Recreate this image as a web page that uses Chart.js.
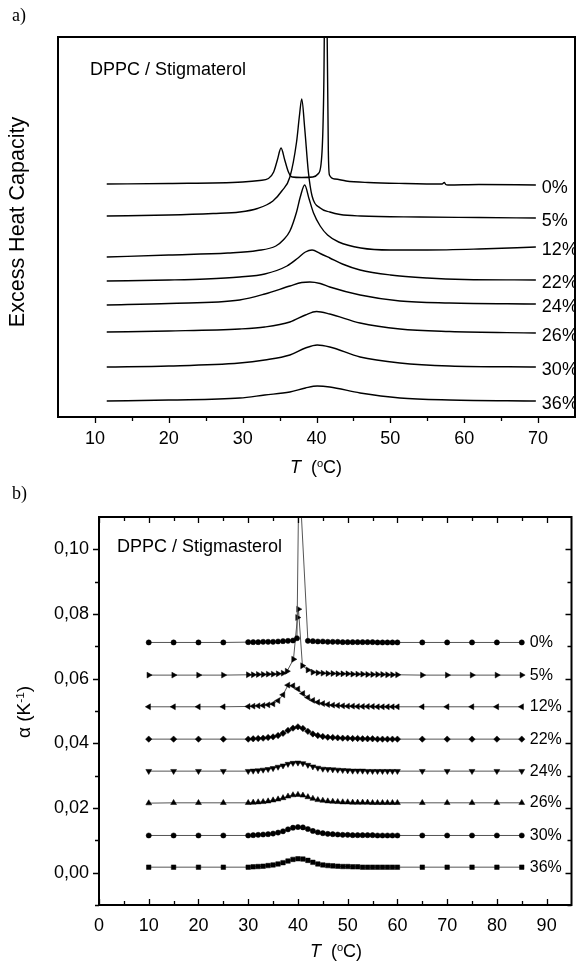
<!DOCTYPE html>
<html>
<head>
<meta charset="utf-8">
<script src="https://cdn.jsdelivr.net/npm/chart.js@4/dist/chart.umd.min.js"></script>
<style>
  html, body { margin: 0; padding: 0; background: #fff; }
  body { width: 576px; height: 965px; position: relative; overflow: hidden;
         font-family: "Liberation Sans", Arial, sans-serif; color: #000; }
  .panel { position: absolute; left: 0; width: 576px; }
  .txt { position: absolute; white-space: nowrap; line-height: 1; }
  .serif { font-family: "Liberation Serif", "Times New Roman", serif; }
  .sup { font-size: 0.62em; position: relative; top: -0.5em; }
  .center { transform: translate(-50%, -50%); }
  .vert { transform: translate(-50%, -50%) rotate(-90deg); }
</style>
</head>
<body>
<div class="panel" style="top:0;height:480px"><canvas id="dsc"></canvas></div>
<div class="panel" style="top:480px;height:485px"><canvas id="alpha"></canvas></div>

<div class="txt serif" style="left:12px;top:6px;font-size:18px">a)</div>
<div class="txt serif" style="left:12px;top:484px;font-size:18px">b)</div>
<div class="txt" style="left:90px;top:60px;font-size:18px">DPPC / Stigmaterol</div>
<div class="txt" style="left:117px;top:537px;font-size:18px">DPPC / Stigmasterol</div>
<div class="txt vert" style="left:18px;top:222px;font-size:21.5px">Excess Heat Capacity</div>
<div class="txt vert" style="left:23px;top:712px;font-size:19px">&alpha; (K<span class="sup">-1</span>)</div>
<div class="txt center" style="left:316px;top:467px;font-size:18px"><i>T</i>&nbsp;&nbsp;(<span class="sup">o</span>C)</div>
<div class="txt center" style="left:336px;top:951px;font-size:18px"><i>T</i>&nbsp;&nbsp;(<span class="sup">o</span>C)</div>

<script>
// ---- Sterol content of each DPPC / sterol mixture ----
const compositions = ['0%', '5%', '12%', '22%', '24%', '26%', '30%', '36%'];

// ---- a) DSC scans: temperature (°C) and excess heat capacity (arb. units, traces offset) ----
const dsc0T  = [11.6, 20, 30, 32.3, 33.5, 34.2, 34.7, 35.2, 35.7, 36.2, 36.7, 38.0, 39.5, 40.2, 40.6, 40.9, 41.05, 41.25, 41.45, 41.6, 41.75, 42.5, 44, 47, 52, 57.0, 57.3, 57.5, 57.8, 62, 69.7];
const dsc0Cp = [23.3, 23.35, 23.5, 23.65, 23.85, 24.5, 25.7, 26.9, 25.7, 24.5, 24.0, 23.95, 24.0, 24.3, 25.2, 29.7, 37.7, 71.7, 37.7, 26.7, 24.2, 23.8, 23.6, 23.45, 23.35, 23.3, 23.45, 23.25, 23.2, 23.25, 23.2];

const dsc5T  = [11.6, 20, 26, 29.6, 32, 34.1, 35.3, 36.4, 37.3, 37.7, 38.0, 38.4, 38.9, 39.4, 40.5, 41.8, 43.2, 46, 54, 62, 69.7];
const dsc5Cp = [20.1, 20.2, 20.35, 20.5, 20.85, 21.6, 22.6, 24.0, 27.5, 30.2, 31.8, 28.9, 24.5, 22.1, 20.9, 20.5, 20.25, 20.1, 20.0, 19.95, 19.9];

const dsc12T  = [11.6, 20, 28, 32, 34.5, 35.5, 36.4, 37.3, 37.8, 38.4, 39.0, 39.6, 40.5, 41.5, 43, 46, 50, 55, 62, 69.7];
const dsc12Cp = [16.0, 16.2, 16.4, 16.65, 17.1, 17.7, 18.6, 20.5, 22.0, 23.2, 21.8, 20.4, 19.1, 18.2, 17.5, 16.9, 16.7, 16.7, 16.8, 17.0];

const dsc22T  = [11.6, 20, 25, 29.6, 33, 36, 37.5, 38.5, 39.4, 40.5, 41.8, 43.5, 45.9, 50, 55, 60, 69.7];
const dsc22Cp = [13.6, 13.7, 13.8, 14.0, 14.3, 15.1, 15.9, 16.5, 16.7, 16.35, 15.9, 15.3, 14.7, 14.2, 13.9, 13.75, 13.7];

const dsc24T  = [11.6, 20, 29.6, 33, 36.4, 38, 39.1, 40.5, 41.8, 45.9, 51.3, 58, 69.7];
const dsc24Cp = [11.2, 11.35, 11.7, 12.3, 13.1, 13.45, 13.5, 13.35, 13.0, 12.2, 11.6, 11.4, 11.3];

const dsc26T  = [11.6, 20, 29.6, 33, 36.4, 38.5, 40.0, 41.8, 45.9, 51.3, 58, 69.7];
const dsc26Cp = [8.5, 8.6, 8.8, 9.0, 9.5, 10.2, 10.55, 10.3, 9.4, 8.8, 8.55, 8.4];

const dsc30T  = [11.6, 20, 29.6, 33, 36.4, 38.5, 40.1, 41.8, 45.9, 51.3, 58, 69.7];
const dsc30Cp = [5.0, 5.1, 5.4, 5.7, 6.2, 6.9, 7.2, 7.0, 6.0, 5.4, 5.1, 5.0];

const dsc36T  = [11.6, 20, 29.6, 33, 36.4, 38.5, 40.1, 41.8, 45.9, 51.3, 58, 69.7];
const dsc36Cp = [1.6, 1.7, 1.9, 2.2, 2.5, 2.9, 3.1, 3.0, 2.4, 1.9, 1.7, 1.6];

const dscTempTicks  = [10, 20, 30, 40, 50, 60, 70];
const dscTempMinor  = [15, 25, 35, 45, 55, 65];

// ---- b) Thermal expansion coefficient alpha (1/K), traces offset ----
const alpha0T = [10, 15, 20, 25, 30, 31, 32, 33, 34, 35, 36, 37, 38, 39, 39.8, 40.2, 42, 43, 44, 45, 46, 47, 48, 49, 50, 51, 52, 53, 54, 55, 56, 57, 58, 59, 60, 65, 70, 75, 80, 85];
const alpha0  = [0.0712, 0.0712, 0.0712, 0.0712, 0.0713, 0.0713, 0.0713, 0.0714, 0.0714, 0.0714, 0.0715, 0.0716, 0.0717, 0.0718, 0.0725, 0.1250, 0.0717, 0.0716, 0.0715, 0.0715, 0.0714, 0.0714, 0.0714, 0.0713, 0.0713, 0.0713, 0.0713, 0.0713, 0.0713, 0.0713, 0.0712, 0.0712, 0.0712, 0.0712, 0.0712, 0.0712, 0.0712, 0.0712, 0.0712, 0.0712];

const alpha5T = [10, 15, 20, 25, 30, 31, 32, 33, 34, 35, 36, 37, 37.8, 39.1, 39.9, 40.1, 40.9, 42, 43, 44, 45, 46, 47, 48, 49, 50, 51, 52, 53, 54, 55, 56, 57, 58, 59, 60, 65, 70, 75, 80, 85];
const alpha5  = [0.0611, 0.0611, 0.0611, 0.0611, 0.0612, 0.0612, 0.0613, 0.0613, 0.0614, 0.0614, 0.0615, 0.0617, 0.0623, 0.0660, 0.0789, 0.0815, 0.0640, 0.0627, 0.0620, 0.0618, 0.0617, 0.0616, 0.0616, 0.0615, 0.0615, 0.0615, 0.0614, 0.0614, 0.0614, 0.0613, 0.0613, 0.0613, 0.0613, 0.0612, 0.0612, 0.0612, 0.0611, 0.0611, 0.0611, 0.0611, 0.0611];

const alphaT = [10, 15, 20, 25, 30, 31, 32, 33, 34, 35, 36, 37, 38, 39, 40, 41, 42, 43, 44, 45, 46, 47, 48, 49, 50, 51, 52, 53, 54, 55, 56, 57, 58, 59, 60, 65, 70, 75, 80, 85];
const alpha12 = [0.0513, 0.0513, 0.0513, 0.0513, 0.0514, 0.0515, 0.0516, 0.0517, 0.0519, 0.0522, 0.0532, 0.0550, 0.0580, 0.0578, 0.0568, 0.0554, 0.0542, 0.0533, 0.0527, 0.0523, 0.0520, 0.0518, 0.0517, 0.0516, 0.0515, 0.0515, 0.0514, 0.0514, 0.0514, 0.0514, 0.0513, 0.0513, 0.0513, 0.0513, 0.0513, 0.0513, 0.0513, 0.0513, 0.0513, 0.0513];
const alpha22 = [0.0413, 0.0413, 0.0413, 0.0413, 0.0413, 0.0414, 0.0415, 0.0416, 0.0418, 0.0420, 0.0424, 0.0431, 0.0440, 0.0447, 0.0451, 0.0446, 0.0437, 0.0429, 0.0424, 0.0421, 0.0419, 0.0418, 0.0417, 0.0416, 0.0416, 0.0415, 0.0415, 0.0414, 0.0414, 0.0414, 0.0413, 0.0413, 0.0413, 0.0413, 0.0413, 0.0413, 0.0413, 0.0413, 0.0413, 0.0413];
const alpha24 = [0.0314, 0.0314, 0.0314, 0.0314, 0.0314, 0.0315, 0.0316, 0.0318, 0.0320, 0.0323, 0.0327, 0.0331, 0.0336, 0.0339, 0.0340, 0.0338, 0.0333, 0.0328, 0.0324, 0.0321, 0.0320, 0.0319, 0.0318, 0.0317, 0.0316, 0.0315, 0.0315, 0.0315, 0.0314, 0.0314, 0.0314, 0.0314, 0.0314, 0.0314, 0.0314, 0.0314, 0.0314, 0.0314, 0.0314, 0.0314];
const alpha26 = [0.0215, 0.0216, 0.0216, 0.0216, 0.0216, 0.0217, 0.0218, 0.0219, 0.0221, 0.0224, 0.0227, 0.0231, 0.0236, 0.0240, 0.0241, 0.0239, 0.0234, 0.0229, 0.0225, 0.0223, 0.0221, 0.0220, 0.0219, 0.0218, 0.0218, 0.0217, 0.0217, 0.0217, 0.0217, 0.0216, 0.0216, 0.0216, 0.0216, 0.0216, 0.0216, 0.0216, 0.0216, 0.0216, 0.0216, 0.0216];
const alpha30 = [0.0115, 0.0115, 0.0115, 0.0115, 0.0115, 0.0116, 0.0117, 0.0118, 0.0119, 0.0121, 0.0124, 0.0128, 0.0134, 0.0139, 0.0141, 0.0140, 0.0135, 0.0129, 0.0125, 0.0122, 0.0120, 0.0119, 0.0118, 0.0117, 0.0117, 0.0116, 0.0116, 0.0116, 0.0116, 0.0116, 0.0115, 0.0115, 0.0115, 0.0115, 0.0115, 0.0115, 0.0115, 0.0115, 0.0115, 0.0115];
const alpha36 = [0.0017, 0.0017, 0.0017, 0.0017, 0.0017, 0.0018, 0.0019, 0.0020, 0.0022, 0.0024, 0.0027, 0.0031, 0.0036, 0.0041, 0.0043, 0.0042, 0.0038, 0.0032, 0.0027, 0.0024, 0.0022, 0.0021, 0.0020, 0.0019, 0.0019, 0.0018, 0.0018, 0.0017, 0.0017, 0.0017, 0.0017, 0.0017, 0.0017, 0.0017, 0.0017, 0.0017, 0.0017, 0.0017, 0.0017, 0.0017];

const alphaTempTicks = [0, 10, 20, 30, 40, 50, 60, 70, 80, 90];
const alphaTempMinor = [5, 15, 25, 35, 45, 55, 65, 75, 85];
const alphaTicks      = [0, 0.02, 0.04, 0.06, 0.08, 0.10];
const alphaMinorTicks = [-0.01, 0.01, 0.03, 0.05, 0.07, 0.09];

// ---- helpers ----
const FONT = '"Liberation Sans", Arial, sans-serif';
Chart.defaults.font.family = FONT;
Chart.defaults.color = '#000';

const pairs = (xs, ys) => xs.map((x, i) => ({ x, y: ys[i] }));

// Frame box, tick marks and end-of-trace composition labels
const framePlugin = {
  id: 'frame',
  afterDraw(chart, args, opts) {
    const { ctx, chartArea: a, scales } = chart;
    ctx.save();
    ctx.strokeStyle = '#000';
    ctx.lineWidth = 1.3;
    ctx.beginPath();
    for (const t of opts.ticks || []) {
      const sc = scales[t.scale];
      for (const v of t.values) {
        const p = Math.round(sc.getPixelForValue(v)) + 0.5;
        if (t.side === 'bottom') {
          ctx.moveTo(p, a.bottom); ctx.lineTo(p, a.bottom + (t.inward ? -t.len : t.len));
        } else if (t.side === 'top') {
          ctx.moveTo(p, a.top); ctx.lineTo(p, a.top + (t.inward ? t.len : -t.len));
        } else if (t.side === 'left') {
          ctx.moveTo(a.left, p); ctx.lineTo(a.left + (t.inward ? t.len : -t.len), p);
        } else {
          ctx.moveTo(a.right, p); ctx.lineTo(a.right + (t.inward ? -t.len : t.len), p);
        }
      }
    }
    ctx.stroke();
    ctx.lineWidth = opts.frameWidth || 2;
    ctx.strokeRect(a.left, a.top, a.right - a.left, a.bottom - a.top);

    ctx.fillStyle = '#000';
    ctx.font = opts.labelFont;
    ctx.textAlign = 'left';
    ctx.textBaseline = 'middle';
    chart.data.datasets.forEach((ds, i) => {
      const pts = chart.getDatasetMeta(i).data;
      const last = pts[pts.length - 1];
      ctx.fillText(ds.label, last.x + opts.labelDx, last.y + opts.labelDy);
    });
    ctx.restore();
  }
};

// ---- a) DSC traces ----
const dscSets = [
  [dsc0T, dsc0Cp], [dsc5T, dsc5Cp], [dsc12T, dsc12Cp], [dsc22T, dsc22Cp],
  [dsc24T, dsc24Cp], [dsc26T, dsc26Cp], [dsc30T, dsc30Cp], [dsc36T, dsc36Cp]
];

new Chart(document.getElementById('dsc'), {
  type: 'line',
  data: {
    datasets: dscSets.map(([t, cp], i) => ({
      label: compositions[i],
      data: pairs(t, cp),
      borderColor: '#000',
      borderWidth: 1.4,
      pointRadius: 0,
      cubicInterpolationMode: 'monotone',
      fill: false
    }))
  },
  options: {
    responsive: true,
    maintainAspectRatio: false,
    animation: false,
    devicePixelRatio: 1,
    layout: { padding: { left: 58, right: 1, top: 37, bottom: 0 } },
    plugins: {
      legend: { display: false },
      tooltip: { enabled: false },
      frame: {
        frameWidth: 2,
        labelFont: '18px ' + FONT, labelDx: 6, labelDy: 3,
        ticks: [
          { scale: 'x', side: 'bottom', values: dscTempTicks, len: 6, inward: false },
          { scale: 'x', side: 'bottom', values: dscTempMinor, len: 4, inward: false }
        ]
      }
    },
    scales: {
      x: {
        type: 'linear', min: 5, max: 75,
        afterBuildTicks: s => { s.ticks = dscTempTicks.map(v => ({ value: v })); },
        afterFit: s => { s.height = 63; },
        grid: { display: false, drawTicks: false },
        border: { display: false },
        ticks: { font: { size: 18 }, color: '#000', padding: 11, maxRotation: 0, autoSkip: false }
      },
      y: { display: false, min: 0, max: 38 }
    }
  },
  plugins: [framePlugin]
});

// ---- b) alpha traces ----
const markerStyles = [
  { pointStyle: 'circle',   rotation: 0,   radius: 2.6 },
  { pointStyle: 'triangle', rotation: 90,  radius: 3.4 },
  { pointStyle: 'triangle', rotation: -90, radius: 3.4 },
  { pointStyle: 'rectRot',  rotation: 0,   radius: 3.2 },
  { pointStyle: 'triangle', rotation: 180, radius: 3.4 },
  { pointStyle: 'triangle', rotation: 0,   radius: 3.4 },
  { pointStyle: 'circle',   rotation: 0,   radius: 2.6 },
  { pointStyle: 'rect',     rotation: 0,   radius: 3.2 }
];
const alphaSets = [
  [alpha0T, alpha0], [alpha5T, alpha5], [alphaT, alpha12], [alphaT, alpha22],
  [alphaT, alpha24], [alphaT, alpha26], [alphaT, alpha30], [alphaT, alpha36]
];

new Chart(document.getElementById('alpha'), {
  type: 'line',
  data: {
    datasets: alphaSets.map(([t, a], i) => ({
      label: compositions[i],
      data: pairs(t, a),
      borderColor: '#555',
      borderWidth: 1,
      tension: 0,
      pointStyle: markerStyles[i].pointStyle,
      pointRotation: markerStyles[i].rotation,
      pointRadius: markerStyles[i].radius,
      pointBackgroundColor: '#000',
      pointBorderColor: '#000',
      pointBorderWidth: 0.5,
      fill: false
    }))
  },
  options: {
    responsive: true,
    maintainAspectRatio: false,
    animation: false,
    devicePixelRatio: 1,
    layout: { padding: { left: 0, right: 2, top: 37, bottom: 0 } },
    plugins: {
      legend: { display: false },
      tooltip: { enabled: false },
      frame: {
        frameWidth: 2,
        labelFont: '16px ' + FONT, labelDx: 8, labelDy: 0,
        ticks: [
          { scale: 'x', side: 'bottom', values: alphaTempTicks, len: 6, inward: true },
          { scale: 'x', side: 'bottom', values: alphaTempMinor, len: 4, inward: true },
          { scale: 'x', side: 'top', values: alphaTempTicks, len: 6, inward: true },
          { scale: 'x', side: 'top', values: alphaTempMinor, len: 4, inward: true },
          { scale: 'y', side: 'left', values: alphaTicks, len: 6, inward: false },
          { scale: 'y', side: 'left', values: alphaMinorTicks, len: 4, inward: false },
          { scale: 'y', side: 'right', values: alphaTicks, len: 6, inward: true },
          { scale: 'y', side: 'right', values: alphaMinorTicks, len: 4, inward: true }
        ]
      }
    },
    scales: {
      x: {
        type: 'linear', min: 0, max: 95,
        afterBuildTicks: s => { s.ticks = alphaTempTicks.map(v => ({ value: v })); },
        afterFit: s => { s.height = 60; },
        grid: { display: false, drawTicks: false },
        border: { display: false },
        ticks: { font: { size: 18 }, color: '#000', padding: 10, maxRotation: 0, autoSkip: false }
      },
      y: {
        type: 'linear', min: -0.01, max: 0.11,
        afterBuildTicks: s => { s.ticks = alphaTicks.map(v => ({ value: v })); },
        afterFit: s => { s.width = 99; },
        grid: { display: false, drawTicks: false },
        border: { display: false },
        ticks: {
          font: { size: 18 }, color: '#000', padding: 10,
          callback: v => v.toFixed(2).replace('.', ',')
        }
      }
    }
  },
  plugins: [framePlugin]
});
</script>
</body>
</html>
